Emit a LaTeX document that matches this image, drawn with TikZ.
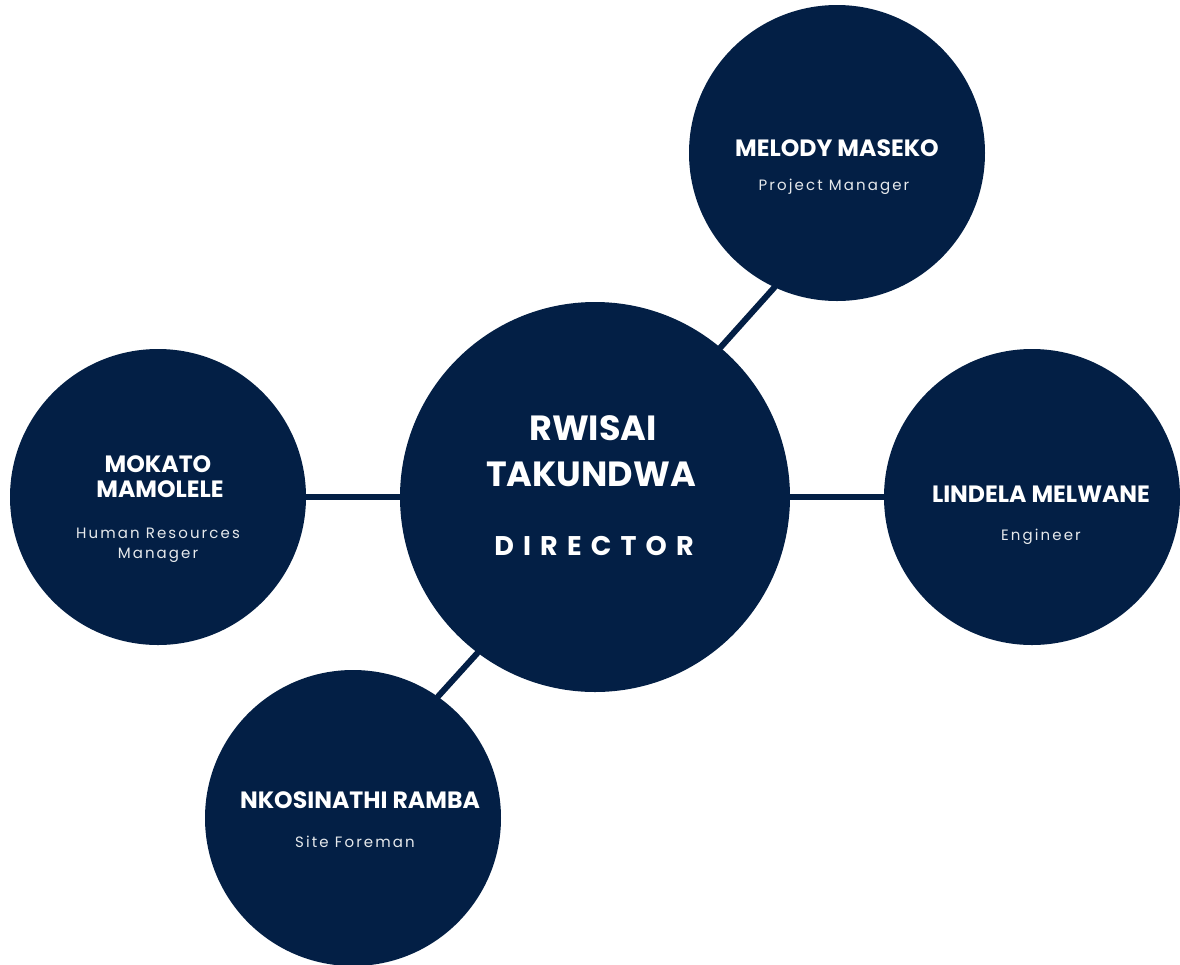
\documentclass[tikz,border=0pt]{standalone}
\usepackage{fontspec}
\setmainfont{Poppins}
\newfontfamily\namefont{Poppins}
\newfontfamily\rolefont{Poppins}[LetterSpace=14]
\newfontfamily\titlefont{Poppins}[LetterSpace=34]
\definecolor{navy}{RGB}{3,31,69}
\tikzset{
  staff/.style={circle,fill=navy,inner sep=0pt,minimum size=148pt},
  boss/.style={circle,fill=navy,inner sep=0pt,minimum size=195pt},
  person/.style={text=white,anchor=base,font=\namefont\bfseries\fontsize{11.8}{15}\selectfont},
  jobtitle/.style={text=white!90!navy,anchor=base,font=\rolefont\fontsize{7.5}{10}\selectfont},
  link/.style={draw=navy,line width=3pt,line cap=round}
}
\begin{document}
\begin{tikzpicture}[x=0.5pt,y=-0.5pt]
\useasboundingbox[fill=white] (0,0) rectangle (1180,965);
\node[boss] (rwisai) at (595,497) {};
\node[staff] (melody) at (837,153) {};
\node[staff] (lindela) at (1032,497) {};
\node[staff] (mokato) at (158,497) {};
\node[staff] (nkosi) at (353,818) {};

\path [link]
(rwisai.50) edge (melody.245)
(rwisai.0) edge (lindela.180)
(rwisai.180) edge (mokato.0)
(rwisai.233) edge (nkosi.55);

% director
\node[person,font=\namefont\bfseries\fontsize{17.5}{22}\selectfont] (rw1) at (593,440) {RWISAI};
\node[person,font=\namefont\bfseries\fontsize{17.5}{22}\selectfont] (rw2) at (591,486) {TAKUNDWA};
\node[person,font=\titlefont\bfseries\fontsize{13.5}{16}\selectfont] (rw3) at (594,555) {DIRECTOR};
% project manager
\node[person] (me1) at (837,156) {MELODY MASEKO};
\node[jobtitle] (me2) at (834,190) {Project Manager};
% engineer
\node[person] (li1) at (1041,502) {LINDELA MELWANE};
\node[jobtitle] (li2) at (1041,540) {Engineer};
% hr
\node[person] (mo1) at (158,472) {MOKATO};
\node[person] (mo2) at (160,497) {MAMOLELE};
\node[jobtitle] (mo3) at (158,538) {Human Resources};
\node[jobtitle] (mo4) at (158,558) {Manager};
% site
\node[person] (nk1) at (360,808) {NKOSINATHI RAMBA};
\node[jobtitle] (nk2) at (355,847) {Site Foreman};
\end{tikzpicture}
\end{document}
